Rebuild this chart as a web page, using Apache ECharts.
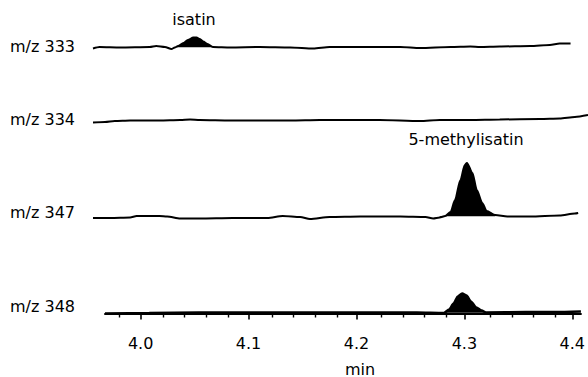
<!DOCTYPE html>
<html>
<head>
<meta charset="utf-8">
<script src="https://cdn.jsdelivr.net/npm/echarts@6/dist/echarts.min.js"></script>
<style>
html,body{margin:0;padding:0;background:#fff;}
#chart{width:588px;height:377px;}
</style>
</head>
<body>
<div id="chart"></div>
<script>
// ---- data (retention time in min, relative intensity) ----
const traceLabels = ['m/z 333', 'm/z 334', 'm/z 347', 'm/z 348'];
const peakNames = ['isatin', '5-methylisatin'];
const majorTicks = [4.0, 4.1, 4.2, 4.3, 4.4];
const tickLabels = ['4.0', '4.1', '4.2', '4.3', '4.4'];
const minorTicks = [3.98, 4.02, 4.04, 4.06, 4.08, 4.12, 4.14, 4.16, 4.18, 4.22, 4.24, 4.26, 4.28, 4.32, 4.34, 4.36, 4.38];
const axisName = 'min';

const mz333 = [[3.956,-1.5],[3.962,0],[3.981,-0.5],[4.008,0],[4.014,1],[4.022,0],[4.028,-2],[4.031,-0.5],[4.034,1],[4.039,4],[4.043,7],[4.048,9.5],[4.051,9.5],[4.054,8],[4.057,5.5],[4.061,3],[4.066,0],[4.082,-0.5],[4.109,0],[4.137,-0.5],[4.158,-1.5],[4.173,0],[4.201,0],[4.238,0],[4.256,-1],[4.284,0],[4.302,0.5],[4.311,0],[4.329,0.5],[4.357,1],[4.375,2],[4.384,3.5],[4.394,3.5]];
const mz334 = [[3.956,-0.5],[3.967,0],[3.976,1],[3.990,1.5],[4.017,1.5],[4.036,2],[4.045,2.5],[4.054,2],[4.082,1.5],[4.109,1.5],[4.137,1.5],[4.164,2],[4.192,2],[4.219,2],[4.256,1],[4.274,2],[4.302,2],[4.329,2.5],[4.366,3],[4.384,3.5],[4.398,5],[4.410,7]];
const mz347 = [[3.956,0],[3.972,0],[3.990,0.5],[3.996,2],[4.017,2],[4.024,1.5],[4.036,-0.5],[4.054,-0.5],[4.084,0],[4.116,0],[4.130,2],[4.146,1],[4.155,-1],[4.173,1],[4.201,1.5],[4.238,1.5],[4.261,1],[4.268,-0.5],[4.274,0.5],[4.279,2],[4.284,6],[4.288,18],[4.293,38],[4.297,53],[4.299,55],[4.304,45],[4.308,28],[4.313,15],[4.317,7],[4.325,3],[4.336,1.5],[4.357,1.5],[4.384,2.5],[4.398,4.5],[4.401,5]];
const mz348 = [[3.967,0],[4.008,0.5],[4.054,1],[4.109,1],[4.164,1],[4.219,1],[4.256,1],[4.281,0.5],[4.286,4],[4.290,10],[4.294,17],[4.298,20],[4.302,18],[4.306,12],[4.311,6],[4.316,3],[4.320,1],[4.357,1.5],[4.384,1.5],[4.408,2]];
// retention-time windows of the filled peaks
const peakWindows = [[0, 4.031, 4.066], [2, 4.274, 4.325], [3, 4.281, 4.320]];

// ---- layout ----
const traces = [mz333, mz334, mz347, mz348];
const FONT = '"DejaVu Sans", sans-serif';
const ink = '#000';

const grids = [
  {left: 93, right: 0, top: 1, height: 56},
  {left: 93, right: 0, top: 76, height: 56},
  {left: 93, right: 0, top: 158, height: 70},
  {left: 105, right: 2, top: 253.5, height: 64.5},
  {left: 105, right: 2, top: 253.5, height: 64.5}
];
const yRanges = [[-10, 46], [-10, 46], [-10, 60], [-4.5, 60], [-4.5, 60]];

const xAxes = [];
for (let i = 0; i < 3; i++) {
  xAxes.push({type: 'value', gridIndex: i, min: 3.956, max: 4.410, show: false});
}
xAxes.push({
  type: 'value', gridIndex: 3, min: 3.967, max: 4.408, position: 'bottom',
  axisLine: {show: true, lineStyle: {color: ink, width: 2}},
  axisTick: {show: true, inside: false, length: 6, customValues: majorTicks, lineStyle: {color: ink, width: 1.6}},
  axisLabel: {show: true, margin: 17, customValues: majorTicks,
    formatter: v => tickLabels[majorTicks.findIndex(t => Math.abs(t - v) < 1e-6)] || '',
    fontFamily: FONT, fontSize: 16, color: ink},
  splitLine: {show: false}
});
xAxes.push({
  type: 'value', gridIndex: 4, min: 3.967, max: 4.408, position: 'bottom',
  axisLine: {show: false},
  axisTick: {show: true, inside: false, length: 4, customValues: minorTicks, lineStyle: {color: ink, width: 1.4}},
  axisLabel: {show: false},
  splitLine: {show: false}
});

const yAxes = yRanges.map((r, i) => ({type: 'value', gridIndex: i, min: r[0], max: r[1], show: false}));

const series = traces.map((d, i) => ({
  type: 'line', xAxisIndex: i, yAxisIndex: i, data: d,
  symbol: 'none', smooth: 0.25, smoothMonotone: 'x', silent: true,
  lineStyle: {color: ink, width: i === 3 ? 2.6 : 2}
}));
peakWindows.forEach(([ti, a, b]) => {
  const sub = traces[ti].filter(p => p[0] >= a - 1e-9 && p[0] <= b + 1e-9);
  const base = (sub[0][1] + sub[sub.length - 1][1]) / 2;
  series.push({
    type: 'line', xAxisIndex: ti, yAxisIndex: ti, data: sub,
    symbol: 'none', smooth: 0.25, smoothMonotone: 'x', silent: true,
    lineStyle: {width: 0},
    areaStyle: {color: ink, opacity: 1, origin: base}
  });
});

const labelY = [47, 120, 213, 307];
const graphic = traceLabels.map((t, i) => ({
  type: 'text', left: 10, top: labelY[i] - 9,
  style: {text: t, font: '16px ' + FONT, fill: ink}
}));
graphic.push({type: 'text', x: 194, y: 19, style: {text: peakNames[0], font: '16px ' + FONT, fill: ink, align: 'center', verticalAlign: 'middle'}});
graphic.push({type: 'text', x: 466, y: 139, style: {text: peakNames[1], font: '16px ' + FONT, fill: ink, align: 'center', verticalAlign: 'middle'}});
graphic.push({type: 'text', x: 360, y: 369, style: {text: axisName, font: '16px ' + FONT, fill: ink, align: 'center', verticalAlign: 'middle'}});

const chart = echarts.init(document.getElementById('chart'), null, {renderer: 'svg'});
chart.setOption({
  animation: false,
  backgroundColor: '#fff',
  grid: grids.map(g => Object.assign({containLabel: false}, g)),
  xAxis: xAxes,
  yAxis: yAxes,
  series: series,
  graphic: graphic
});
</script>
</body>
</html>
